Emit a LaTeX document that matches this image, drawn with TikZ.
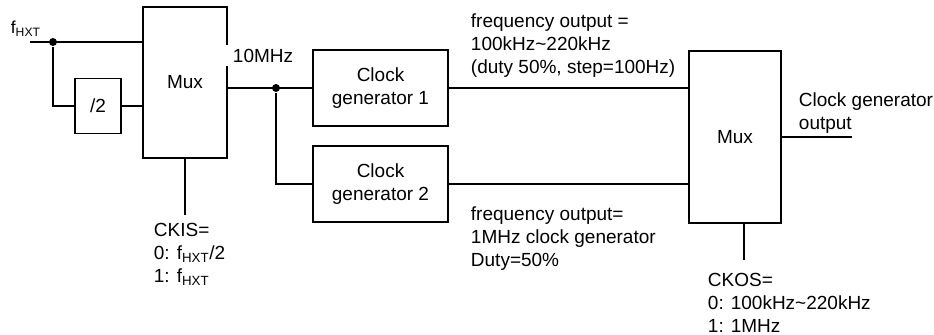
\documentclass[tikz,border=0pt]{standalone}
\usepackage{fontspec}
\setmainfont{Liberation Sans}
\begin{document}
\begin{tikzpicture}[x=0.75pt,y=-0.75pt,line width=1.4pt,
  txt/.style={font=\fontsize{14.25pt}{17.25pt}\selectfont},
  blk/.style={draw,txt,align=center,inner sep=0pt},
  lbl/.style={txt,align=left,inner sep=0pt,anchor=north west},
  dotc/.style={circle,fill,inner sep=0pt,minimum size=6pt}]
\useasboundingbox (0,0) rectangle (934,335);
% blocks
\node[blk,minimum width=63pt,minimum height=113.25pt] (mux1) at (185,82.5) {Mux};
\node[blk,minimum width=34.5pt,minimum height=41.25pt] (div) at (98,106) {/2};
\node[blk,minimum width=101.25pt,minimum height=57pt] (cg1) at (380.5,88) {Clock\\generator 1};
\node[blk,minimum width=101.25pt,minimum height=57pt] (cg2) at (380.5,184) {Clock\\generator 2};
\node[blk,minimum width=69pt,minimum height=129pt] (mux2) at (735,137) {Mux};
% coordinates
\coordinate (in) at (30,42);
\node[dotc] (d1) at (53,42) {};
\node[dotc] (d2) at (276,88) {};
\coordinate (ckisend) at (185,215);
\coordinate (ckosend) at (744,260);
\coordinate (out) at (852,137);
% connectors
\draw (in) -- (in -| mux1.west);
\draw (d1) |- (div.west);
\draw (div.east) -- (div.east -| mux1.west);
\draw (mux1.east |- cg1.west) -- (cg1.west);
\draw (d2) |- (cg2.west);
\draw (cg1.east) -- (cg1.east -| mux2.west);
\draw (cg2.east) -- (cg2.east -| mux2.west);
\draw (mux2.east) -- (out);
\draw (mux1.south) -- (ckisend);
\draw (mux2.south -| ckosend) -- (ckosend);
% labels
\node[lbl,font=\fontsize{13pt}{15pt}\selectfont] (fh) at (10,20) {f\textsubscript{HXT}};
\node[lbl,fill=white,inner xsep=6pt,inner ysep=3pt] (mhz) at (224,44) {10MHz};
\node[lbl] (ckis) at (153,222) {CKIS=\\0: f\textsubscript{HXT}/2\\1: f\textsubscript{HXT}};
\node[lbl] (ft) at (470,13) {frequency output =\\100kHz\textasciitilde220kHz\\(duty 50\%, step=100Hz)};
\node[lbl] (fb) at (470,206) {frequency output=\\1MHz clock generator\\Duty=50\%};
\node[lbl] (cgo) at (798,92) {Clock generator\\output};
\node[lbl] (ckos) at (707,272) {CKOS=\\0: 100kHz\textasciitilde220kHz\\1: 1MHz};
\end{tikzpicture}
\end{document}
